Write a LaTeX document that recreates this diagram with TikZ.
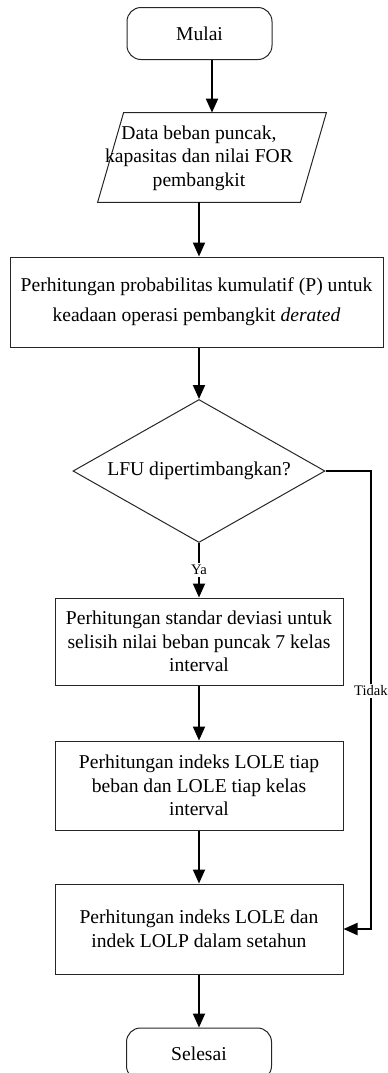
\documentclass[tikz,border=0pt]{standalone}
\usepackage{fontspec}
\setmainfont{Liberation Serif}
\usetikzlibrary{shapes.geometric,arrows.meta}

\tikzset{
  terminal/.style = {draw=black!85, line width=0.5pt, rounded corners=7pt,
    minimum width=72.5pt, minimum height=26pt, inner sep=0pt,
    font=\fontsize{9.8}{11.75}\selectfont},
  proses/.style = {draw=black!85, line width=0.5pt, minimum width=144pt,
    inner sep=0pt, align=center, font=\fontsize{9.8}{11.75}\selectfont},
  masukan/.style = {minimum width=101pt, minimum height=44.5pt, inner sep=0pt},
  keputusan/.style = {draw=black!85, line width=0.5pt, diamond, aspect=1.76,
    minimum width=126pt, minimum height=71.5pt, inner sep=0pt,
    font=\fontsize{9.8}{11.75}\selectfont},
  panah/.style = {line width=1pt, -{Triangle[width=6pt,length=7pt]}},
  ket/.style = {fill=white, inner sep=1pt, font=\fontsize{7.3}{8}\selectfont}
}

\begin{document}
\begin{tikzpicture}[x=0.5pt, y=0.5pt]
  \useasboundingbox (0,0) rectangle (387,-1073);

  % simbol alir
  \node[terminal] (mulai) at (199.5,-33.5) {Mulai};
  \node[masukan] (data) at (212,-157.5) {};
  \draw[black!85, line width=0.5pt] ([xshift=-6.5pt]data.south west)
    -- ([xshift=6.5pt]data.north west) -- ([xshift=6.5pt]data.north east)
    -- ([xshift=-6.5pt]data.south east) -- cycle;
  \node[align=center, inner sep=0pt, font=\fontsize{9.8}{11.75}\selectfont]
    (datateks) at (199,-158) {Data beban puncak,\\kapasitas dan nilai FOR\\pembangkit};
  \node[proses, minimum width=186.5pt, minimum height=45pt,
    font=\fontsize{9.8}{15}\selectfont] (hitungP) at (196.5,-302)
    {Perhitungan probabilitas kumulatif (P) untuk\\keadaan operasi pembangkit \textit{derated}};
  \node[keputusan] (lfu) at (199,-471) {LFU dipertimbangkan?};
  \node[proses, minimum height=43.5pt] (deviasi) at (199,-641.5)
    {Perhitungan standar deviasi untuk\\selisih nilai beban puncak 7 kelas\\interval};
  \node[proses, minimum height=44.5pt] (lolekelas) at (199,-785.5)
    {Perhitungan indeks LOLE tiap\\beban dan LOLE tiap kelas\\interval};
  \node[proses, minimum height=45pt] (setahun) at (199,-929)
    {Perhitungan indeks LOLE dan\\indek LOLP dalam setahun};
  \node[terminal] (selesai) at (199,-1054) {Selesai};

  \coordinate (belok) at (371,-471);

  % garis alir
  \draw[panah] (data.north |- mulai.south) -- (data.north);
  \draw[panah] (lfu.north |- data.south) -- (lfu.north |- hitungP.north);
  \draw[panah] (lfu.north |- hitungP.south) -- (lfu.north);
  \draw[panah] (lfu.south) -- node[ket]{Ya} (deviasi.north);
  \draw[panah] (deviasi.south) -- (lolekelas.north);
  \draw[panah] (lolekelas.south) -- (setahun.north);
  \draw[panah] (setahun.south) -- (selesai.north);
  \draw[panah] (lfu.east) -- (belok) |- node[ket, pos=0.24]{Tidak} (setahun.east);
\end{tikzpicture}
\end{document}
